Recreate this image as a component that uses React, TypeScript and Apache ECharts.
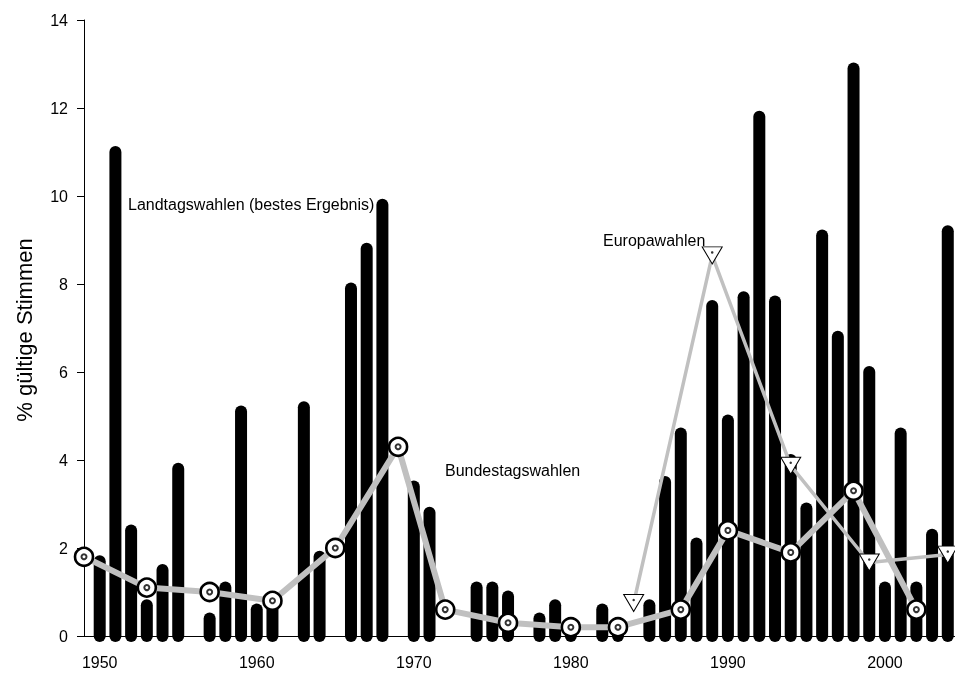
import React, { useEffect, useRef } from "react";
import * as echarts from "echarts";

// Landtagswahlen (best result per year), % valid votes
const landtagYears = [
  1950, 1951, 1952, 1953, 1954, 1955, 1957, 1958, 1959, 1960, 1961, 1963, 1964,
  1966, 1967, 1968, 1970, 1971, 1974, 1975, 1976, 1978, 1979, 1980, 1982, 1983,
  1985, 1986, 1987, 1988, 1989, 1990, 1991, 1992, 1993, 1994, 1995, 1996, 1997,
  1998, 1999, 2000, 2001, 2002, 2003, 2004,
];
const landtagValues = [
  1.7, 11.0, 2.4, 0.7, 1.5, 3.8, 0.4, 1.1, 5.1, 0.6, 0.7, 5.2, 1.8,
  7.9, 8.8, 9.8, 3.4, 2.8, 1.1, 1.1, 0.9, 0.4, 0.7, 0.1, 0.6, 0.1,
  0.7, 3.5, 4.6, 2.1, 7.5, 4.9, 7.7, 11.8, 7.6, 4.0, 2.9, 9.1, 6.8,
  12.9, 6.0, 1.1, 4.6, 1.1, 2.3, 9.2,
];

// Bundestagswahlen
const bundestagYears = [1949, 1953, 1957, 1961, 1965, 1969, 1972, 1976, 1980, 1983, 1987, 1990, 1994, 1998, 2002];
const bundestagValues = [1.8, 1.1, 1.0, 0.8, 2.0, 4.3, 0.6, 0.3, 0.2, 0.2, 0.6, 2.4, 1.9, 3.3, 0.6];

// Europawahlen
const europaYears = [1984, 1989, 1994, 1999, 2004];
const europaValues = [0.75, 8.65, 3.87, 1.67, 1.85];

const xTickLabels = [1950, 1960, 1970, 1980, 1990, 2000];

const yAxisTitle = "% gültige Stimmen";
const landtagLabel = "Landtagswahlen (bestes Ergebnis)";
const bundestagLabel = "Bundestagswahlen";
const europaLabel = "Europawahlen";

export default function App() {
  const ref = useRef<HTMLDivElement>(null);

  useEffect(() => {
    const chart = echarts.init(ref.current!, null, { renderer: "svg" });
    const font = "'Liberation Sans', Arial, Helvetica, sans-serif";
    const gray = "#c0c0c0";

    const lt = landtagYears.map((y, i) => [y, landtagValues[i]]);
    const bt = bundestagYears.map((y, i) => [y, bundestagValues[i]]);
    const eu = europaYears.map((y, i) => [y, europaValues[i]]);

    chart.setOption({
      animation: false,
      grid: { left: 84, right: 0, top: 20, bottom: 37 },
      xAxis: {
        type: "value",
        min: 1949,
        max: 2004.46,
        axisLine: { show: true, onZero: false, lineStyle: { color: "#000", width: 1 } },
        axisTick: { show: false },
        splitLine: { show: false },
        axisLabel: {
          customValues: xTickLabels,
          formatter: (v: number) => String(Math.round(v)),
          color: "#000",
          fontSize: 16,
          fontFamily: font,
          margin: 18,
        },
      },
      yAxis: {
        type: "value",
        min: 0,
        max: 14,
        interval: 2,
        axisLine: { show: true, lineStyle: { color: "#000", width: 1 } },
        axisTick: { show: true, length: 7, lineStyle: { color: "#000" } },
        splitLine: { show: false },
        axisLabel: { color: "#000", fontSize: 16, fontFamily: font, margin: 16 },
      },
      series: [
        {
          type: "custom",
          data: lt,
          clip: false,
          z: 2,
          renderItem: (params: any, api: any) => {
            const x = api.value(0);
            const v = api.value(1);
            const p0 = api.coord([x, 0]);
            const p1 = api.coord([x, v]);
            return {
              type: "line",
              shape: { x1: p0[0], y1: p0[1], x2: p1[0], y2: p1[1] },
              style: { stroke: "#000", lineWidth: 12, lineCap: "round" },
            };
          },
        },
        {
          type: "line",
          name: bundestagLabel,
          data: bt,
          clip: false,
          z: 3,
          lineStyle: { color: gray, width: 6 },
          symbol: "circle",
          symbolSize: 18,
          showAllSymbol: true,
          itemStyle: { color: "#fff", borderColor: "#000", borderWidth: 2.6 },
        },
        {
          type: "scatter",
          data: bt,
          clip: false,
          z: 4,
          symbol: "circle",
          symbolSize: 5,
          itemStyle: { color: "#fff", borderColor: "#000", borderWidth: 2 },
        },
        {
          type: "line",
          name: europaLabel,
          data: eu,
          clip: false,
          z: 5,
          lineStyle: { color: gray, width: 3.5 },
          symbol: "triangle",
          symbolRotate: 180,
          symbolSize: [20, 17],
          showAllSymbol: true,
          itemStyle: { color: "#fff", borderColor: "#000", borderWidth: 1 },
        },
        {
          type: "scatter",
          data: eu,
          clip: false,
          z: 6,
          symbol: "circle",
          symbolSize: 2.5,
          symbolOffset: [0, -3],
          itemStyle: { color: "#000" },
        },
      ],
      graphic: [
        {
          type: "text",
          x: 24,
          y: 330,
          rotation: Math.PI / 2,
          z: 1,
          style: {
            text: yAxisTitle,
            fontSize: 22,
            fontFamily: font,
            fill: "#000",
            align: "center",
            verticalAlign: "middle",
          },
        },
        {
          type: "text",
          x: 128,
          y: 204,
          z: 1,
          style: { text: landtagLabel, fontSize: 16, fontFamily: font, fill: "#000", align: "left", verticalAlign: "middle" },
        },
        {
          type: "text",
          x: 603,
          y: 240,
          z: 1,
          style: { text: europaLabel, fontSize: 16, fontFamily: font, fill: "#000", align: "left", verticalAlign: "middle" },
        },
        {
          type: "text",
          x: 445,
          y: 470,
          z: 1,
          style: { text: bundestagLabel, fontSize: 16, fontFamily: font, fill: "#000", align: "left", verticalAlign: "middle" },
        },
      ],
    });

    return () => chart.dispose();
  }, []);

  return <div ref={ref} style={{ position: "fixed", left: 0, top: 0, width: 955, height: 673 }} />;
}
